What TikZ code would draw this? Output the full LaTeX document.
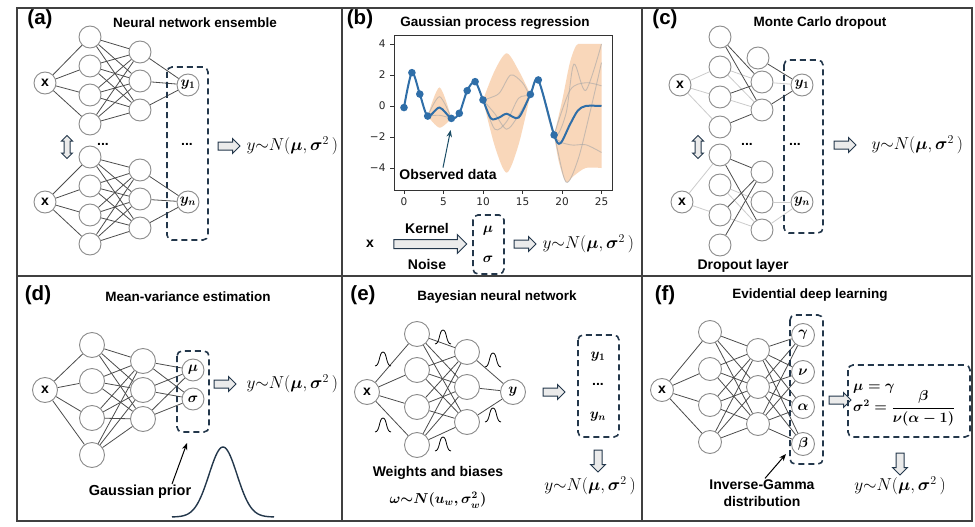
\documentclass[tikz,border=0pt]{standalone}
\usepackage{fontspec}
\usepackage{amsmath,bm}
\setsansfont{Liberation Sans}
\newfontfamily\tickfont{DejaVu Sans}
\usetikzlibrary{shapes.arrows,arrows.meta}
\definecolor{navy}{RGB}{35,55,75}
\definecolor{band}{RGB}{249,215,186}
\definecolor{gpblue}{RGB}{47,110,168}
\definecolor{framec}{RGB}{64,64,64}
\definecolor{arrowteal}{RGB}{27,77,102}
\tikzset{
  neuron/.style={circle, draw=black!45, fill=white, line width=0.9pt, minimum size=22pt, inner sep=0pt, font=\fontsize{14}{14}\selectfont\boldmath},
  xnode/.style={neuron, font=\sffamily\bfseries\fontsize{14}{14}\selectfont},
  link/.style={black!70, line width=0.8pt},
  faint/.style={black!20, line width=0.8pt},
  outbox/.style={navy, line width=1.6pt, dash pattern=on 6pt off 4pt, rounded corners=5pt},
  fatarrow/.style={single arrow, draw=navy, fill=black!8, line width=1pt, minimum height=22pt, inner sep=0pt, inner ysep=3.5pt, single arrow head extend=3.5pt},
  updown/.style={double arrow, draw=navy, fill=black!8, line width=1pt, minimum height=23pt, inner sep=0pt, inner ysep=2.5pt, double arrow head extend=2.5pt, rotate=90},
  letter/.style={font=\sffamily\bfseries\fontsize{20.5}{24}\selectfont},
  title/.style={font=\sffamily\bfseries\fontsize{13.5}{16}\selectfont},
  note/.style={font=\sffamily\bfseries\fontsize{14}{17}\selectfont, align=center, inner sep=1pt},
  formula/.style={font=\fontsize{16.5}{19}\selectfont},
  boldformula/.style={font=\fontsize{14.5}{17}\selectfont\boldmath},
  dots/.style={font=\sffamily\bfseries\fontsize{14}{14}\selectfont},
  tick/.style={font=\tickfont\fontsize{10.5}{12}\selectfont, text=black!85},
  pointer/.style={-{Stealth[length=7pt,width=5.5pt]}, line width=1pt},
  panel/.style={framec, line width=1.8pt},
  bump/.pic={\draw[black, line width=0.8pt] (-8,7) .. controls (-3,7) and (-4,-7) .. (0,-7) .. controls (4,-7) and (3,7) .. (8,7);},
}
\begin{document}
\begin{tikzpicture}[x=1pt, y=-1pt]
\useasboundingbox (0,0) rectangle (975,527);
\fill[white] (0,0) rectangle (975,527);
% frame of the six panels
\draw[panel] (17,8) rectangle (972,521);
\draw[panel] (342,8) -- (342,521);
\draw[panel] (642,8) -- (642,521);
\draw[panel] (17,276) -- (972,276);

% (a) ensemble
\node[letter] (la) at (40,19) {(a)};
\node[title] (ta) at (195,23) {Neural network ensemble};
\node[xnode] (A_0_1) at (45,83) {x};
\foreach \r/\y in {1/37,2/66,3/95,4/124} \node[neuron] (A_1_\r) at (90,\y) {};
\foreach \r/\y in {1/52,2/81,3/110} \node[neuron] (A_2_\r) at (140,\y) {};
\node[neuron] (A_3_1) at (188,85) {$y_1$};
\node[xnode] (AA_0_1) at (45,202) {x};
\foreach \r/\y in {1/157,2/186,3/215,4/244} \node[neuron] (AA_1_\r) at (90,\y) {};
\foreach \r/\y in {1/170,2/199,3/228} \node[neuron] (AA_2_\r) at (140,\y) {};
\node[neuron] (AA_3_1) at (188,202) {$y_n$};
\foreach \i in {1,...,4} {
  \draw[link] (A_0_1) -- (A_1_\i);
  \draw[link] (AA_0_1) -- (AA_1_\i);
  \foreach \j in {1,2,3} {
    \draw[link] (A_1_\i) -- (A_2_\j);
    \draw[link] (AA_1_\i) -- (AA_2_\j);
  }
}
\foreach \j in {1,2,3} {
  \draw[link] (A_2_\j) -- (A_3_1);
  \draw[link] (AA_2_\j) -- (AA_3_1);
}
\node[updown] (swapa) at (67,147) {};
\node[dots] (dota) at (103,144) {...};
\node[dots] (dotya) at (187,144) {...};
\draw[outbox] (167,67) rectangle (208,240);
\node[fatarrow] (arra) at (227,146) {};
\node[formula, anchor=west] (fa) at (243,146) {$y{\sim}N(\bm{\mu},\bm{\sigma}^2\,)$};

% (b) Gaussian process regression
\node[letter] (lb) at (360,19) {(b)};
\node[title] (tb) at (495,23) {Gaussian process regression};
\begin{scope}[shift={(404,106)}, x=7.9pt, y=15.5pt]
  \fill[band] plot[smooth] coordinates {(3,-0.65) (4.5,1.2) (6,-0.8)} -- plot[smooth] coordinates {(6,-0.8) (4.5,-1.4) (3,-0.65)} -- cycle;
  \fill[band] plot[smooth] coordinates {(10,0.39) (11.5,2.3) (13,3.4) (14.5,2.3) (16,0.75)} -- plot[smooth] coordinates {(16,0.75) (14.5,-2.5) (13,-4.3) (11.5,-2.6) (10,0.39)} -- cycle;
  \fill[band] plot[smooth] coordinates {(19,-1.87) (20,0.3) (21,2.8) (21.8,3.9) (22.5,4) (25,4)} -- plot[smooth] coordinates {(25,-4) (23,-4) (21.5,-4.5) (20.5,-4.9) (19.6,-3.6) (19,-1.87)} -- cycle;
  \draw[black!35, line width=0.9pt, opacity=0.6] plot[smooth] coordinates {(3,-0.65) (4.5,0.6) (6,-0.8)};
  \draw[black!35, line width=0.9pt, opacity=0.6] plot[smooth] coordinates {(3,-0.65) (4.5,-0.6) (6,-0.8)};
  \draw[black!35, line width=0.9pt, opacity=0.6] plot[smooth] coordinates {(10,0.39) (11.5,-0.5) (13,-1.5) (14.5,-0.6) (16,0.75) (17,1.68) (19,-1.87) (20.5,-0.5) (21.5,2.7) (23,1) (25,4)};
  \draw[black!35, line width=0.9pt, opacity=0.6] plot[smooth] coordinates {(10,0.39) (12,0.8) (13.5,2) (15,1.5) (16,0.75) (17,1.68) (19,-1.87) (20.5,-4.9) (22,-3.5) (23.5,-0.5) (25,2.8)};
  \draw[black!35, line width=0.9pt, opacity=0.6] plot[smooth] coordinates {(10,0.39) (11.5,-1.5) (13,-1) (14.5,0.5) (16,0.75) (17,1.68) (19,-1.87) (21,-2.5) (23,-2.5) (25,-3)};
  \draw[black!35, line width=0.9pt, opacity=0.6] plot[smooth] coordinates {(19,-1.87) (21,1) (23,1.5) (25,1.3)};
  \draw[gpblue, line width=2pt] plot[smooth] coordinates {(0,-0.1) (1,2.15) (2,0.77) (3,-0.65) (4.5,-0.1) (6,-0.8) (7,-0.47) (8,0.99) (9,1.57) (10,0.39) (11,-0.8) (12,-0.75) (13,-0.5) (14.5,-0.75) (16,0.75) (17,1.68) (19,-1.87) (19.8,-2.4) (21,-1.2) (22,-0.3) (23,0) (25,0)};
  \foreach \px/\py in {0/-0.1,1/2.15,2/0.77,3/-0.65,6/-0.8,7/-0.47,8/0.99,9/1.57,10/0.39,16/0.75,17/1.68,19/-1.87}
    \fill[gpblue] (\px,\py) circle (3.8pt);
  \draw[black!80, line width=0.9pt] (-1.27,-5.42) rectangle (26.33,4.58);
  \foreach \t in {0,5,...,25} {
    \draw[black!80, line width=0.9pt] (\t,-5.42) -- ++(0,-0.28);
    \node[tick] (xt\t) at (\t,-6.2) {\t};
  }
  \foreach \t/\s/\n in {-4/−4/1,-2/−2/2,0/0/3,2/2/4,4/4/5} {
    \draw[black!80, line width=0.9pt] (-1.27,\t) -- ++(-0.5,0);
    \node[tick, anchor=east] (yt\n) at (-1.9,\t) {\s};
  }
  \coordinate (obsTip) at (5.9,-1.55);
\end{scope}
\node[note] (obs) at (448,174) {Observed data};
\draw[pointer, arrowteal] ([xshift=-5pt]obs.north) -- (obsTip);
\node[note] (xb) at (370,244) {x};
\node[fatarrow, minimum height=73pt, inner ysep=4pt, single arrow head extend=5pt] (arrb) at (428,244) {};
\node[note] (kern) at (427,228) {Kernel};
\node[note] (nois) at (427,264) {Noise};
\draw[outbox] (473,215) rectangle (504,274);
\node[boldformula] (mub) at (488,231) {$\mu$};
\node[boldformula] (sigb) at (488,259) {$\sigma$};
\node[fatarrow] (arrb2) at (523,244) {};
\node[formula, anchor=west] (fb) at (539,244) {$y{\sim}N(\bm{\mu},\bm{\sigma}^2\,)$};

% (c) Monte Carlo dropout
\node[letter] (lc) at (665,19) {(c)};
\node[title] (tc) at (820,23) {Monte Carlo dropout};
\node[xnode] (C_0_1) at (680,85) {x};
\foreach \r/\y in {1/37,2/67,3/97,4/127} \node[neuron] (C_1_\r) at (720,\y) {};
\foreach \r/\x/\y in {1/758/58,2/762/82,3/762/110} \node[neuron] (C_2_\r) at (\x,\y) {};
\node[neuron] (C_3_1) at (802,85) {$y_1$};
\node[xnode] (CC_0_1) at (682,202) {x};
\foreach \r/\y in {1/155,2/185,3/215,4/245} \node[neuron] (CC_1_\r) at (720,\y) {};
\foreach \r/\y in {1/172,2/202,3/230} \node[neuron] (CC_2_\r) at (762,\y) {};
\node[neuron] (CC_3_1) at (802,202) {$y_n$};
\foreach \a/\b in {C_0_1/C_1_2,C_0_1/C_1_3,C_0_1/C_1_4,C_1_2/C_2_2,C_1_2/C_2_3,C_1_3/C_2_3,C_2_2/C_3_1}
  \draw[faint] (\a) -- (\b);
\foreach \a/\b in {C_1_1/C_2_2,C_1_1/C_2_3,C_1_3/C_2_2,C_1_4/C_2_3,C_2_1/C_3_1,C_2_3/C_3_1}
  \draw[link] (\a) -- (\b);
\foreach \a/\b in {CC_0_1/CC_1_1,CC_0_1/CC_1_3,CC_1_2/CC_2_2,CC_1_2/CC_2_3,CC_1_3/CC_2_3,CC_2_2/CC_3_1,CC_2_3/CC_3_1}
  \draw[faint] (\a) -- (\b);
\foreach \a/\b in {CC_1_1/CC_2_1,CC_1_1/CC_2_3,CC_1_3/CC_2_1,CC_1_4/CC_2_1}
  \draw[link] (\a) -- (\b);
\node[updown] (swapc) at (698,147) {};
\node[dots] (dotc) at (747,144) {...};
\node[dots] (dotyc) at (795,144) {...};
\draw[outbox] (784,60) rectangle (823,233);
\node[fatarrow] (arrc) at (843,145) {};
\node[formula, anchor=west] (fc) at (868,145) {$y{\sim}N(\bm{\mu},\bm{\sigma}^2\,)$};
\node[note] (drop) at (743,266) {Dropout layer};

% (d) mean-variance estimation
\node[letter] (ld) at (38,295) {(d)};
\node[title] (td) at (188,297) {Mean-variance estimation};
\node[xnode, minimum size=25pt] (D_0_1) at (45,390) {x};
\foreach \r/\y in {1/345,2/381,3/418,4/455} \node[neuron, minimum size=25pt] (D_1_\r) at (92,\y) {};
\foreach \r/\y in {1/361,2/390,3/419} \node[neuron, minimum size=25pt] (D_2_\r) at (143,\y) {};
\node[neuron] (D_3_1) at (193,370) {$\mu$};
\node[neuron] (D_3_2) at (193,399) {$\sigma$};
\foreach \i in {1,...,4} {
  \draw[link] (D_0_1) -- (D_1_\i);
  \foreach \j in {1,2,3} \draw[link] (D_1_\i) -- (D_2_\j);
}
\foreach \j in {1,2,3} {
  \draw[link] (D_2_\j) -- (D_3_1);
  \draw[link] (D_2_\j) -- (D_3_2);
}
\draw[outbox] (177,351) rectangle (209,432);
\node[fatarrow] (arrd) at (223,384) {};
\node[formula, anchor=west] (fd) at (243,384) {$y{\sim}N(\bm{\mu},\bm{\sigma}^2\,)$};
\node[note, font=\sffamily\bfseries\fontsize{14.5}{17}\selectfont] (gp) at (140,492) {Gaussian prior};
\coordinate (dTip) at (187,443);
\draw[pointer] ([xshift=32pt]gp.north) -- (dTip);
\draw[navy, line width=1.4pt] plot[domain=-51:51, samples=80, smooth] ({223+\x}, {517-70*exp(-(\x*\x)/392)});

% (e) Bayesian neural network
\node[letter] (le) at (363,295) {(e)};
\node[title] (te) at (497,297) {Bayesian neural network};
\node[xnode, minimum size=25pt] (E_0_1) at (367,392) {x};
\foreach \r/\y in {1/334,2/370,3/407,4/445} \node[neuron, minimum size=25pt] (E_1_\r) at (417,\y) {};
\foreach \r/\y in {1/352,2/387,3/422} \node[neuron, minimum size=25pt] (E_2_\r) at (467,\y) {};
\node[neuron, minimum size=25pt] (E_3_1) at (513,392) {$y$};
\foreach \i in {1,...,4} {
  \draw[link] (E_0_1) -- (E_1_\i);
  \foreach \j in {1,2,3} \draw[link] (E_1_\i) -- (E_2_\j);
}
\foreach \j in {1,2,3} \draw[link] (E_2_\j) -- (E_3_1);
\foreach \px/\py in {383/359,443/337,493/360,383/425,443/444,493/415} \pic at (\px,\py) {bump};
\node[fatarrow] (arre) at (552,392) {};
\draw[outbox] (578,335) rectangle (619,437);
\node[boldformula] (ey1) at (598,357) {$y_1$};
\node[dots] (edots) at (598,384) {...};
\node[boldformula] (eyn) at (598,417) {$y_n$};
\node[fatarrow, rotate=-90] (arre2) at (598,459) {};
\node[formula] (fe) at (590,486) {$y{\sim}N(\bm{\mu},\bm{\sigma}^2\,)$};
\node[note] (wb) at (438,473) {Weights and biases};
\node[boldformula, inner sep=0pt] (wdist) at (438,500) {$\omega{\sim}N(u_w,\sigma_w^2)$};

% (f) evidential deep learning
\node[letter] (lf) at (665,295) {(f)};
\node[title] (tf) at (810,295) {Evidential deep learning};
\node[xnode, minimum size=23pt] (F_0_1) at (662,390) {x};
\foreach \r/\y in {1/332,2/369,3/405,4/442} \node[neuron, minimum size=23pt] (F_1_\r) at (710,\y) {};
\foreach \r/\y in {1/350,2/387,3/424} \node[neuron, minimum size=23pt] (F_2_\r) at (758,\y) {};
\foreach \r/\y/\s in {1/335/\gamma,2/372/\nu,3/407/\alpha,4/444/\beta} \node[neuron, minimum size=23pt] (F_3_\r) at (803,\y) {$\s$};
\foreach \i in {1,...,4} {
  \draw[link] (F_0_1) -- (F_1_\i);
  \foreach \j in {1,2,3} {
    \draw[link] (F_1_\i) -- (F_2_\j);
    \draw[link] (F_2_\j) -- (F_3_\i);
  }
}
\draw[outbox] (790,315) rectangle (823,464);
\node[fatarrow] (arrf) at (838,400) {};
\draw[outbox] (848,365) rectangle (970,437);
\node[boldformula, font=\fontsize{14.5}{17}\selectfont\boldmath, anchor=west, align=left, inner sep=0pt] (eqf) at (853,405) {$\mu=\gamma$\\[-3pt]$\sigma^2=\dfrac{\beta}{\nu(\alpha-1)}$};
\node[fatarrow, rotate=-90] (arrf2) at (900,462) {};
\node[formula] (ff) at (900,486) {$y{\sim}N(\bm{\mu},\bm{\sigma}^2\,)$};
\node[note] (ig) at (762,493) {Inverse-Gamma\\distribution};
\coordinate (fTip) at (786,454);
\draw[pointer] ([xshift=3pt]ig.north) -- (fTip);
\end{tikzpicture}
\end{document}
